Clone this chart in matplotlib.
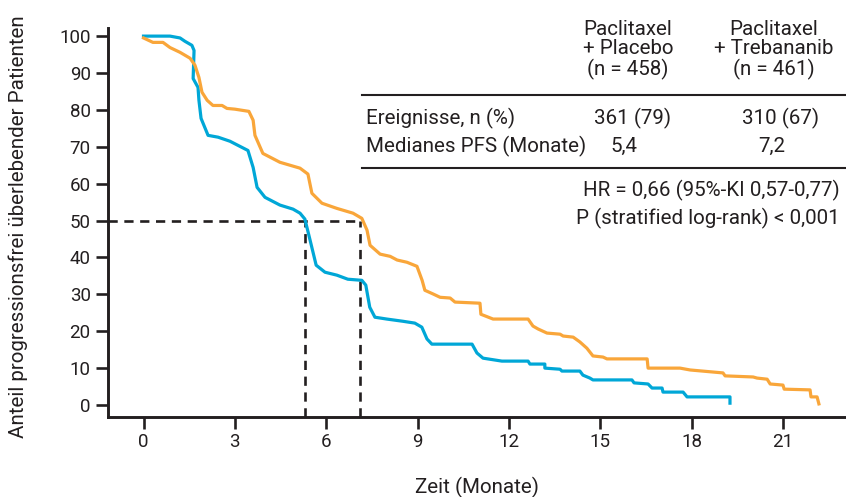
import matplotlib
matplotlib.use('Agg')
import matplotlib.pyplot as plt

plt.rcParams['font.family'] = ['Roboto', 'DejaVu Sans']

# Kaplan-Meier curves (months, % progression-free)
placebo_t = [0.0, 0.87, 1.2, 1.36, 1.59, 1.66, 1.63, 1.79, 1.82, 1.89, 2.12, 2.45, 2.84, 3.17, 3.43,
             3.6, 3.73, 3.99, 4.48, 4.91, 5.14, 5.3, 5.47, 5.67, 5.96, 6.35, 6.71, 7.17, 7.3, 7.43,
             7.6, 7.99, 8.52, 8.91, 9.14, 9.31, 9.47, 10.79, 10.95, 11.15, 11.77, 12.63, 12.69,
             13.18, 13.18, 13.68, 13.74, 14.33, 14.43, 14.66, 14.76, 16.04, 16.11, 16.57, 16.7,
             17.03, 17.06, 17.72, 17.85, 19.26, 19.26]
placebo_s = [100, 100, 99.5, 98.6, 97.5, 96.1, 88.5, 86.1, 82.6, 77.7, 73.1, 72.6, 71.5, 70.1, 69.0,
             64.4, 59.0, 56.3, 54.2, 53.1, 52.0, 50.4, 44.7, 37.9, 36.0, 35.2, 34.1, 33.8, 32.5, 26.5,
             23.8, 23.3, 22.7, 22.2, 21.1, 17.9, 16.5, 16.5, 14.1, 12.7, 11.9, 11.9, 11.1,
             11.1, 10.0, 9.7, 9.2, 9.2, 8.1, 7.3, 6.8, 6.8, 6.0, 5.7, 4.6,
             4.6, 3.5, 3.5, 2.2, 2.2, 0.5]

treb_t = [0.0, 0.31, 0.64, 0.87, 1.2, 1.53, 1.69, 1.82, 1.92, 2.09, 2.28, 2.58, 2.74, 3.0, 3.46,
          3.6, 3.66, 3.92, 4.48, 5.14, 5.4, 5.53, 5.86, 6.35, 6.88, 7.17, 7.34, 7.44, 7.77, 8.1,
          8.33, 8.65, 8.98, 9.15, 9.24, 9.51, 9.74, 10.07, 10.23, 11.05, 11.08, 11.48, 12.63,
          12.79, 12.96, 13.25, 13.68, 13.78, 14.11, 14.33, 14.56, 14.76, 15.09, 15.22, 16.54,
          16.57, 17.62, 17.95, 19.03, 19.1, 20.02, 20.15, 20.48, 20.58, 21.0, 21.04, 21.89,
          21.92, 22.12, 22.18]
treb_s = [99.5, 98.3, 98.3, 96.9, 95.6, 94.0, 92.1, 88.8, 84.8, 82.6, 81.2, 81.2, 80.4, 80.2, 79.6,
          77.2, 73.1, 68.2, 65.8, 64.2, 62.6, 57.4, 54.7, 53.3, 52.0, 50.6, 47.4, 43.3, 40.9, 40.3,
          39.3, 38.7, 37.6, 33.8, 31.1, 30.1, 29.2, 29.0, 27.9, 27.6, 24.6, 23.3, 23.3,
          21.4, 20.6, 19.5, 19.2, 18.7, 18.4, 17.1, 15.4, 13.3, 13.0, 12.5, 12.5,
          10.0, 10.0, 9.5, 8.7, 7.9, 7.6, 7.3, 7.0, 5.7, 5.4, 4.3, 4.1,
          2.2, 2.2, 0.3]

median_times = [5.3, 7.1]   # where the dashed guide lines sit in the picture
x_ticks = [0, 3, 6, 9, 12, 15, 18, 21]
y_ticks = list(range(0, 101, 10))

groups = ['Paclitaxel\n+ Placebo\n(n = 458)', 'Paclitaxel\n+ Trebananib\n(n = 461)']
events = ['361 (79)', '310 (67)']
medians = ['5,4', '7,2']

W, H = 846, 497
fig = plt.figure(figsize=(W / 100, H / 100), dpi=100)
ax = fig.add_axes([108 / W, 80 / H, 1 - 108 / W, (417 - 28) / H])

dark = '#231f20'
blue = '#00a7d7'
orange = '#f9a63a'
fs = 14.8

ax.plot(placebo_t, placebo_s, color=blue, lw=2.3, solid_joinstyle='round', zorder=3)
ax.plot(treb_t, treb_s, color=orange, lw=2.3, solid_joinstyle='round', zorder=3)

ax.set_xlim(-1.166, 23.07)
ax.set_ylim(-3.25, 102.2)

dash = dict(color=dark, lw=1.9, ls=(0, (3.5, 2.5)), zorder=2)
ax.plot([-1.166, median_times[1]], [50, 50], **dash)
for m in median_times:
    ax.plot([m, m], [-3.25, 50], **dash)

for s in ['top', 'right']:
    ax.spines[s].set_visible(False)
for s in ['left', 'bottom']:
    ax.spines[s].set_linewidth(2.1)
    ax.spines[s].set_color(dark)

ax.set_xticks(x_ticks)
ax.set_yticks(y_ticks)
ax.tick_params(direction='out', length=8.5, width=1.9, color=dark, labelsize=13.5,
               labelcolor=dark)
ax.tick_params(axis='x', pad=3)
ax.tick_params(axis='y', pad=4)

ax.set_xlabel('Zeit (Monate)', fontsize=fs, color=dark, labelpad=19)
ax.set_ylabel('Anteil progressionsfrei überlebender Patienten', fontsize=fs, color=dark,
              labelpad=20)
ax.yaxis.set_label_coords(-0.108, 0.49)


def ftext(x, y, s, **kw):
    fig.text(x / W, 1 - y / H, s, fontsize=fs, color=dark, **kw)


col_x = [628, 774]
for cx, g in zip(col_x, groups):
    ftext(cx, 50, g, ha='center', va='center', linespacing=1.05)

line_kw = dict(color=dark, lw=1.5, transform=fig.transFigure)
fig.add_artist(plt.Line2D([362 / W, 1], [1 - 95 / H, 1 - 95 / H], **line_kw))
fig.add_artist(plt.Line2D([362 / W, 1], [1 - 168 / H, 1 - 168 / H], **line_kw))

ftext(366, 118, 'Ereignisse, n (%)', ha='left', va='center')
ftext(366, 146, 'Medianes PFS (Monate)', ha='left', va='center')
for cx, e, md in zip([633, 781], events, medians):
    ftext(cx, 118, e, ha='center', va='center')
    ftext(cx - 9, 146, md, ha='center', va='center')

ftext(840, 190, 'HR = 0,66 (95%-KI 0,57-0,77)', ha='right', va='center')
ftext(840, 218, 'P (stratified log-rank) < 0,001', ha='right', va='center')

fig.savefig('out.png', dpi=100)
